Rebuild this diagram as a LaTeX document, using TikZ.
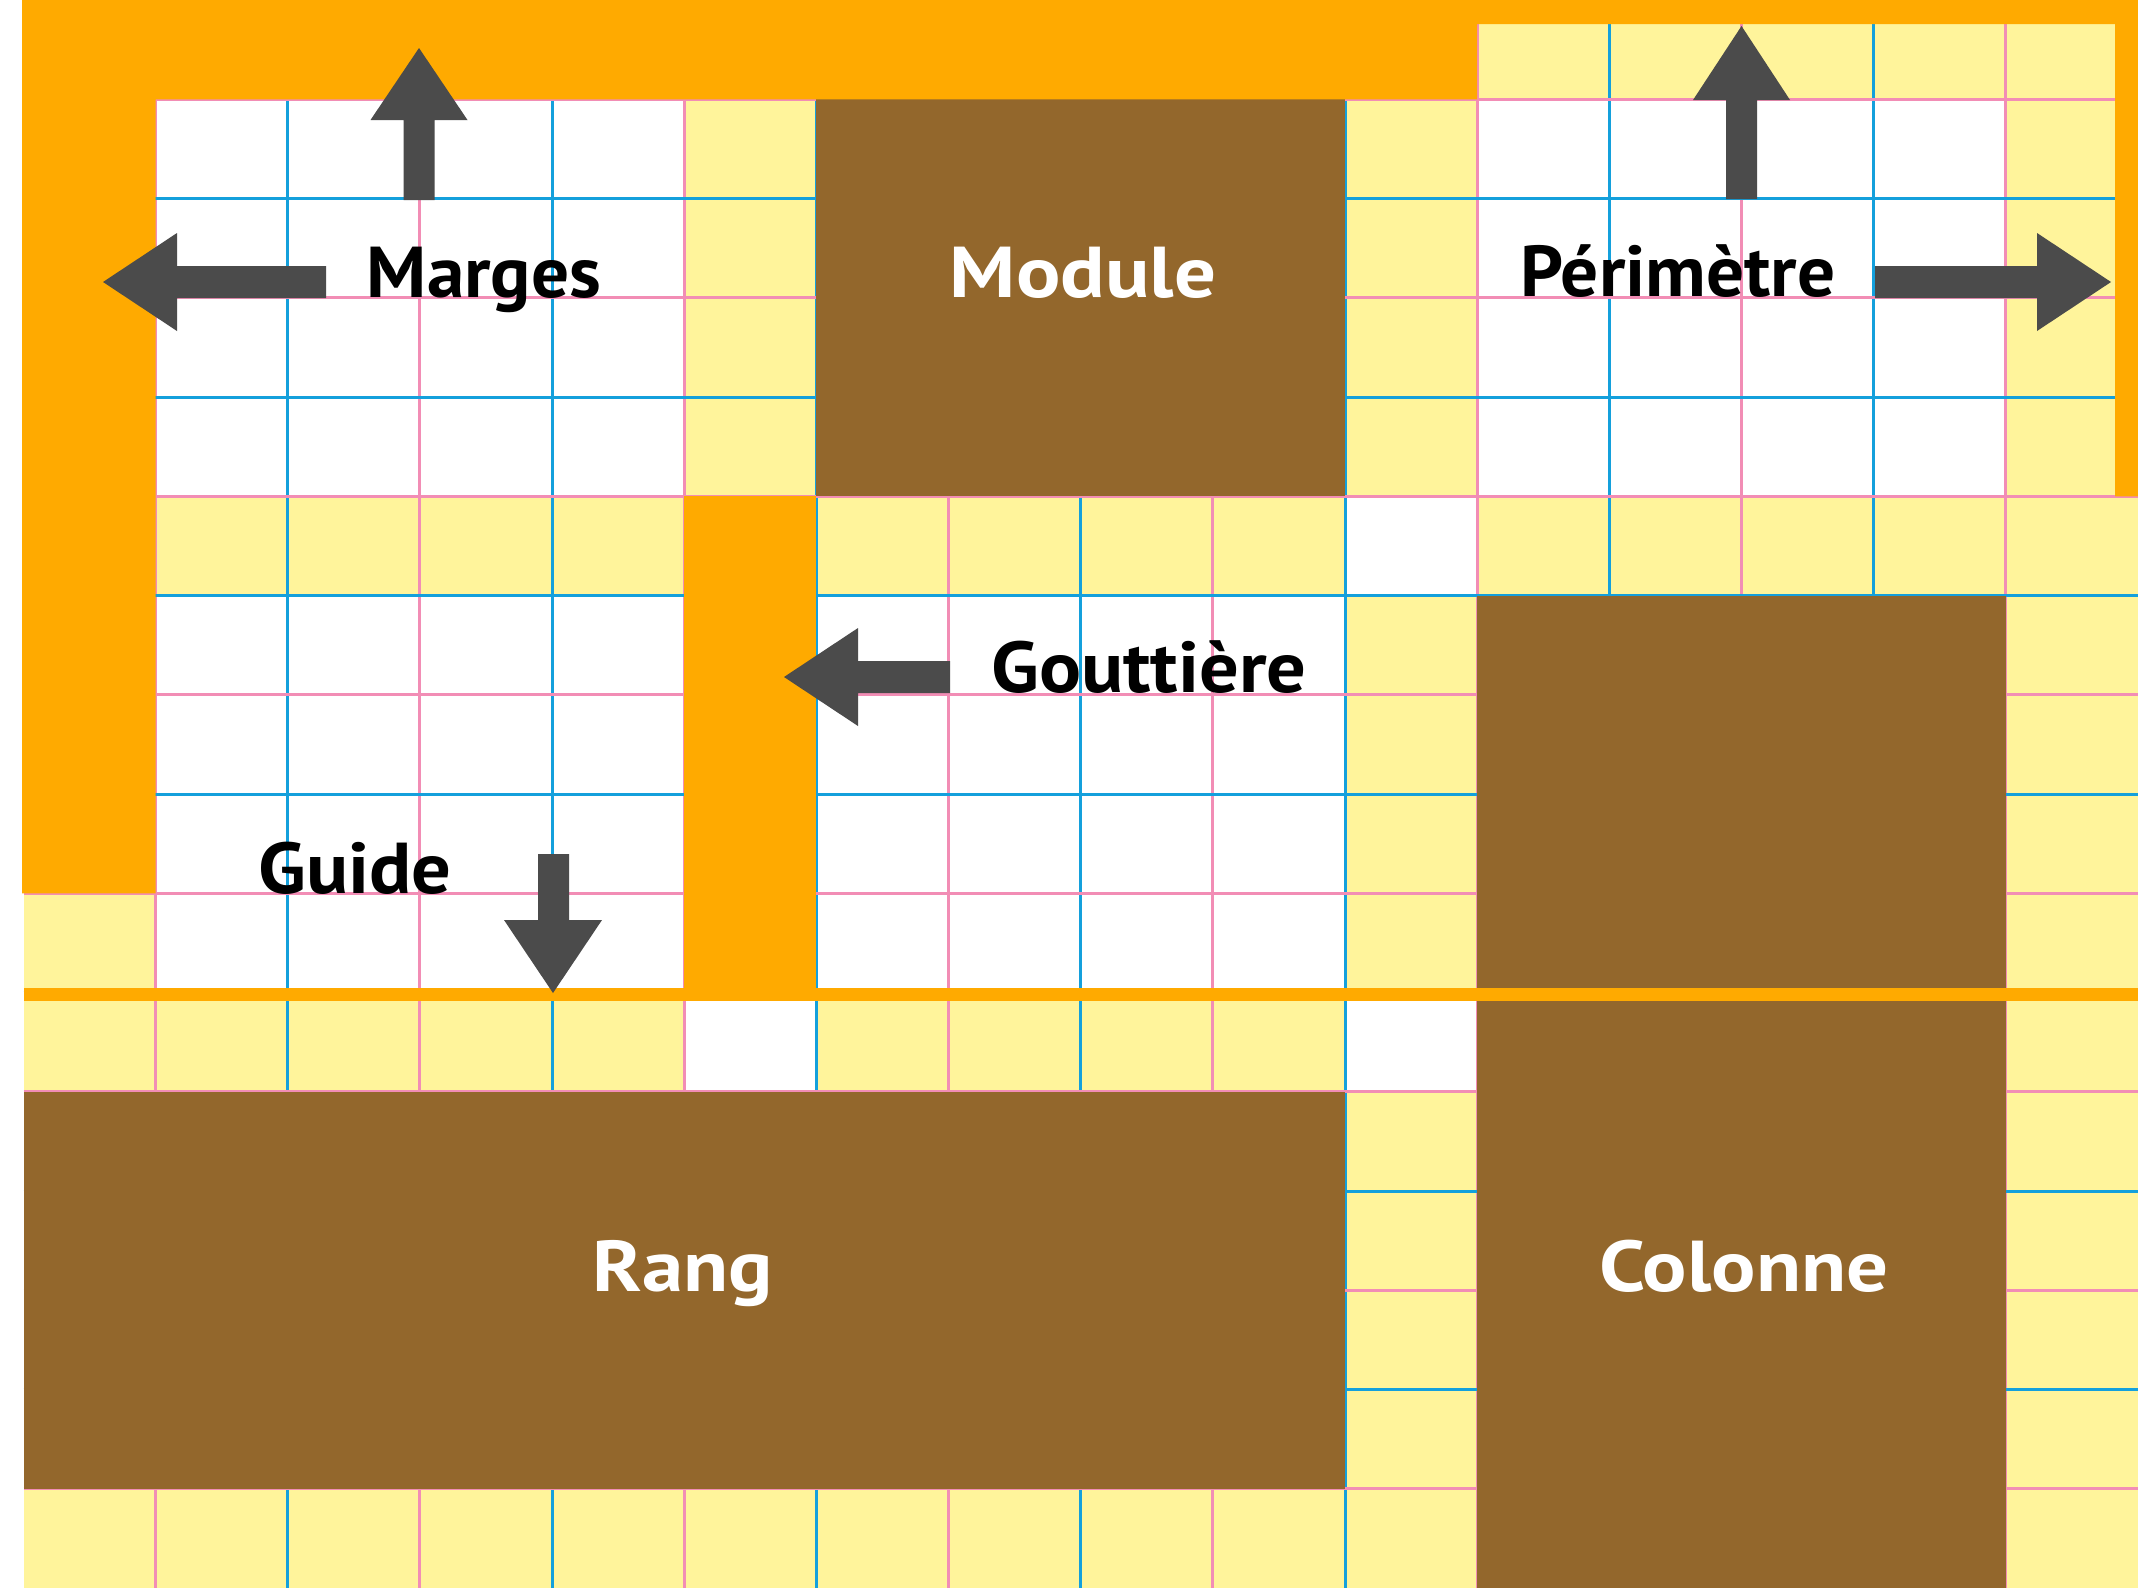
\documentclass[tikz,border=0pt]{standalone}
\usepackage{fontspec}
\setmainfont{PT Sans}[FakeStretch=1.09]
\newfontfamily\narrowlbl{PT Sans}[FakeStretch=1.045]
\newfontfamily\widelbl{PT Sans}[FakeStretch=1.15]
\definecolor{orng}{HTML}{FFAA00}
\definecolor{ylw}{HTML}{FFF49B}
\definecolor{brn}{HTML}{93672C}
\definecolor{blu}{HTML}{14A0DC}
\definecolor{pnk}{HTML}{F28DB5}
\definecolor{arr}{HTML}{4B4B4B}
\tikzset{
  lbl/.style={font=\bfseries\fontsize{72}{80}\selectfont, inner sep=0pt, anchor=base},
  dark/.style={lbl, text=black},
  light/.style={lbl, text=white},
  blockarrow/.style={fill=arr},
  gridline/.style={line width=3}
}
\begin{document}
\begin{tikzpicture}[x=1pt,y=-1pt]
\useasboundingbox (0,0) rectangle (2138,1588);
\fill[white] (0,0) rectangle (2138,1588);
% base yellow
\fill[ylw] (23.5,0) rectangle (2138,1588);
% white module cells
\fill[white] (155.65,99.25) rectangle (684.25,496.25);
\fill[white] (1477.15,99.25) rectangle (2005.75,496.25);
\fill[white] (155.65,595.5) rectangle (684.25,992.5);
\fill[white] (816.4,595.5) rectangle (1345,992.5);
\fill[white] (1345,496.25) rectangle (1477.15,595.5);
\fill[white] (684.25,992.5) rectangle (816.4,1091.75);
\fill[white] (1345,992.5) rectangle (1477.15,1091.75);
% grid lines
\foreach \k in {1,...,15}{
  \pgfmathtruncatemacro\odd{mod(\k,2)}
  \ifnum\odd=1 \def\lc{pnk}\else\def\lc{blu}\fi
  \draw[gridline,\lc] ({23.5+132.15*\k},0) -- ({23.5+132.15*\k},1588);
}
\foreach \k in {1,...,15}{
  \pgfmathtruncatemacro\odd{mod(\k,2)}
  \ifnum\odd=1 \def\lc{pnk}\else\def\lc{blu}\fi
  \draw[gridline,\lc] (23.5,{99.25*\k}) -- (2138,{99.25*\k});
}
% brown blocks
\fill[brn] (816.4,99.25) rectangle (1345,496.25);
\fill[brn] (1477.15,595.5) rectangle (2005.75,1588);
\fill[brn] (23.5,1091.75) rectangle (1345,1488.75);
% orange margins
\fill[orng] (22,0) -- (2138,0) -- (2138,496.25) -- (2115,496.25) -- (2115,24)
  -- (1477.15,24) -- (1477.15,99.25) -- (155.65,99.25) -- (155.65,893.25)
  -- (22,893.25) -- cycle;
% orange gutter
\fill[orng] (684.25,496.25) rectangle (816.4,994);
% guide line
\fill[orng] (23.5,988) rectangle (2138,1001);
% arrows
% Marges up
\fill[blockarrow] (419,48) -- (467.5,120) -- (434.5,120) -- (434.5,200) -- (403.5,200) -- (403.5,120) -- (370.5,120) -- cycle;
% Marges left
\fill[blockarrow] (103,282) -- (177,233) -- (177,266) -- (326,266) -- (326,298) -- (177,298) -- (177,331) -- cycle;
% Perimetre up
\fill[blockarrow] (1741.5,26) -- (1790,100) -- (1757,100) -- (1757,199) -- (1726,199) -- (1726,100) -- (1693,100) -- cycle;
% Perimetre right
\fill[blockarrow] (2111,282) -- (2037,233) -- (2037,266) -- (1875,266) -- (1875,298) -- (2037,298) -- (2037,331) -- cycle;
% Gouttiere left
\fill[blockarrow] (784,677) -- (858,628) -- (858,661) -- (950,661) -- (950,693) -- (858,693) -- (858,726) -- cycle;
% Guide down
\fill[blockarrow] (553,993) -- (602,920) -- (569,920) -- (569,854) -- (538,854) -- (538,920) -- (504,920) -- cycle;
% labels
\node[dark] (marges) at (484,297) {\narrowlbl Marges};
\node[light] (module) at (1083,297) {\widelbl Module};
\node[dark] (perimetre) at (1678,296) {\narrowlbl Périmètre};
\node[dark] (gouttiere) at (1149,692) {Gouttière};
\node[dark] (guide) at (355,893) {Guide};
\node[light] (rang) at (683,1291) {\widelbl Rang};
\node[light] (colonne) at (1744,1291) {\widelbl Colonne};
\end{tikzpicture}
\end{document}
